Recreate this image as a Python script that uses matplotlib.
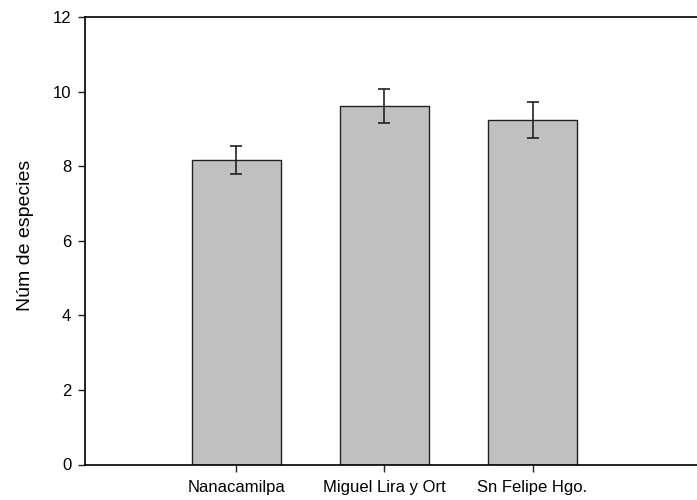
import matplotlib
matplotlib.use("Agg")
import numpy as np
import matplotlib.pyplot as plt

plt.rcParams['font.family'] = ['Liberation Sans', 'DejaVu Sans']

sitios = ["Nanacamilpa", "Miguel Lira y Ort", "Sn Felipe Hgo."]
especies = [8.17, 9.62, 9.23]
error = [0.38, 0.45, 0.48]

fig = plt.figure(figsize=(6.97, 5.0), dpi=100)
ax = fig.add_axes([0.122, 0.071, 0.878, 0.895])

x = np.arange(len(sitios))
ax.bar(x, especies, width=0.6, color="#c0c0c0", edgecolor="#222222", linewidth=1.0)
ax.errorbar(x, especies, yerr=error, fmt="none", ecolor="#222222",
            elinewidth=1.2, capsize=4.5, capthick=1.2)

ax.set_xlim(-1.02, 3.11)
ax.set_ylim(0, 12)
ax.set_yticks(range(0, 13, 2))
ax.set_xticks(x)
ax.set_xticklabels(sitios)
ax.tick_params(direction="out", length=5, width=1, labelsize=12, color="#222222")
ax.tick_params(axis="x", pad=6)
ax.tick_params(axis="y", pad=5)
ax.set_ylabel("Núm de especies", fontsize=14)
ax.yaxis.set_label_coords(-0.083, 0.512)

ax.spines["right"].set_visible(False)
for s in ["left", "top", "bottom"]:
    ax.spines[s].set_linewidth(1.2)

fig.savefig("out.png", dpi=100)
